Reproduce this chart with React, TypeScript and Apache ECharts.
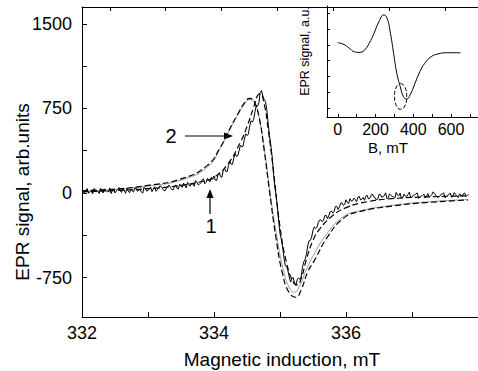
import React, { useEffect, useRef } from "react";
import * as echarts from "echarts";

// ---- main plot data ----
const noisyStart = 332;
const noisyStep = 0.04;
// curve 1 (experimental, noisy): samples at 332.00, 332.04, ...
const curve1Noisy = [
  22, 5, 38, 12, -8, 30, 18, 42, 0, 25, 10, -5, 35, 20, 48, 5, 28, 40, 2, 18,
  45, 15, 30, -2, 38, 20, 52, 35, 15, 48, 60, 22, 45, 70, 30, 55, 42, 78, 50, 65,
  95, 60, 80, 110, 72, 90, 125, 95, 110, 140,
  150, 110, 180, 140, 220, 190, 280, 255, 350, 330,
  425, 415, 525, 520, 640, 650, 775, 800, 910, 830, 740, 510, 330, 60, -120, -360, -480, -645, -690, -790,
  -750, -820, -755, -745, -610, -545, -425, -390, -300, -305, -240, -255, -200, -228, -165, -178, -120, -145, -90, -110,
  -60, -92, -72, -45, -78, -30, -55, -65, -20, -48, -8, -40, -55, -12, -30, 2, -42, -20, -35, 5,
  -25, -48, -10, -30, 8, -38, -18, 0, -35, -22, -45, -5, -28, 10, -20, -40, -12, 2, -32, -15,
  -38, 4, -25, -8, -30, 0, -20,
];
// curve 1, in-between samples: 332.02, 332.06, ...
const curve1NoisyMid = [
  8, 30, -2, 25, 40, 10, -5, 28, 35, 12, 45, 22, 0, 32, 15, 38, -3, 20, 30, 8,
  42, 25, 10, 50, 18, 40, 12, 55, 28, 62, 38, 20, 58, 48, 28, 72, 35, 60, 88, 45,
  72, 85, 60, 98, 78, 115, 82, 130, 100, 120,
  115, 160, 145, 200, 190, 245, 255, 310, 325, 375, 410, 475, 510, 590, 630, 720, 770,
  890, 860, 810, 620, 430, 185, -20, -250, -410, -575, -650, -745, -760, -800, -770, -765, -660, -590, -470, -420,
  -330, -315, -262, -238, -240, -200, -198, -160, -162, -118, -125, -88, -100,
  -85, -50, -68, -58, -35, -62, -40, -28, -52, -22, -35, -60, -15, -38, -25, -50, -8, -30, -45, -18,
  -2, -40, -28, -12, -42, -20, -5, -48, -25, -10, -30, -38, -15, -2, -35, -28, -8, -42, -20, 0,
  -26, -12, -40, -18, -5, -32, -15,
];
// curve 1 fit (dashed)
const fit1: [number, number][] = [
  [332, 10], [332.5, 22], [333, 38], [333.4, 60], [333.8, 100], [334.0, 140],
  [334.2, 250], [334.4, 450], [334.5, 590], [334.6, 760], [334.66, 865], [334.7, 880],
  [334.76, 790], [334.82, 570], [334.9, 200], [335.0, -300], [335.1, -620], [335.2, -790],
  [335.26, -815], [335.32, -760], [335.4, -590], [335.5, -420], [335.6, -320], [335.8, -200],
  [336.0, -130], [336.3, -80], [336.7, -50], [337.2, -35], [337.85, -25],
];
// curve 2 (thin grey solid)
const curve2: [number, number][] = [
  [332, 15], [332.5, 30], [333, 62], [333.5, 115], [333.9, 230], [334.1, 400],
  [334.2, 520], [334.35, 680], [334.48, 800], [334.55, 830], [334.62, 800], [334.7, 620],
  [334.78, 320], [334.85, 0], [334.95, -380], [335.05, -680], [335.15, -850], [335.22, -880],
  [335.3, -820], [335.4, -680], [335.5, -560], [335.7, -370], [335.95, -215], [336.2, -160],
  [336.7, -110], [337.2, -80], [337.85, -58],
];
// curve 2 fit (dashed)
const fit2: [number, number][] = [
  [332, 20], [332.5, 35], [333, 68], [333.5, 125], [333.9, 245], [334.1, 410],
  [334.2, 525], [334.35, 690], [334.48, 815], [334.54, 840], [334.6, 820], [334.68, 680],
  [334.76, 380], [334.84, 20], [334.94, -400], [335.04, -720], [335.14, -885], [335.24, -925],
  [335.32, -860], [335.42, -700], [335.52, -600], [335.72, -390], [335.96, -225], [336.2, -166],
  [336.7, -116], [337.2, -86], [337.85, -62],
];

const xTicks = [332, 333, 334, 335, 336, 337, 338];
const xTickLabels = [332, 334, 336];
const topTicks = [0.5, 1.5, 2.5, 3.5, 4.5, 5.5, 6.5];
const yTicks = [-750, -375, 0, 375, 750, 1125, 1500];
const yTickLabels = [-750, 0, 750, 1500];

// ---- inset data ----
const insetCurve: [number, number][] = [
  [0, 4.13], [28, 4.05], [62, 3.78], [88, 3.56], [114, 3.52], [140, 3.65],
  [166, 4.09], [192, 4.73], [218, 5.46], [244, 5.89], [261, 5.7], [279, 4.73],
  [296, 3.46], [313, 2.19], [331, 1.35], [348, 0.72], [365, 0.57], [383, 0.82],
  [409, 1.56], [435, 2.3], [461, 2.83], [495, 3.25], [530, 3.42], [582, 3.5], [651, 3.5],
];
const insetEllipse: [number, number][] = [
  [333, 1.56], [355, 1.35], [365, 0.74], [355, 0.13], [333, -0.08],
  [311, 0.13], [301, 0.74], [311, 1.35], [333, 1.56],
];
const insetXTicks = [0, 100, 200, 300, 400, 500, 600, 700];
const insetXTickLabels = [0, 200, 400, 600];
const insetYTicks = [0, 1, 2, 3, 4, 5, 6];

const FONT = '"Liberation Sans", Arial, Helvetica, sans-serif';
const plain = (v: number) => String(v);

export default function App() {
  const ref = useRef<HTMLDivElement>(null);
  useEffect(() => {
    if (!ref.current) return;
    const chart = echarts.init(ref.current, undefined, { renderer: "svg" });
    const noisyData: number[][] = [];
    curve1Noisy.forEach((v, i) => {
      noisyData.push([noisyStart + i * noisyStep, v]);
      if (i < curve1NoisyMid.length) {
        noisyData.push([noisyStart + noisyStep / 2 + i * noisyStep, curve1NoisyMid[i]]);
      }
    });
    const axisLine = { show: true, onZero: false, lineStyle: { color: "#000", width: 1 } };
    const dashed = { color: "#000", width: 1.2, type: [6, 3] as number[] };
    chart.setOption({
      animation: false,
      backgroundColor: "#fff",
      textStyle: { fontFamily: FONT },
      grid: [
        { left: 82, top: 7, right: -10, bottom: 54 },
        { left: 327, top: 6, right: -3, bottom: 254 },
      ],
      xAxis: [
        {
          type: "value", gridIndex: 0, min: 332, max: 338, position: "bottom",
          axisLine, splitLine: { show: false },
          axisTick: { inside: true, length: 5, customValues: xTicks, lineStyle: { color: "#000" } },
          axisLabel: { customValues: xTickLabels, formatter: plain, fontSize: 18, color: "#000", margin: 7, fontFamily: FONT },
        },
        {
          type: "value", gridIndex: 0, min: 0, max: 7.094, position: "top",
          axisLine, splitLine: { show: false },
          axisTick: { inside: true, length: 4, customValues: topTicks, lineStyle: { color: "#000" } },
          axisLabel: { show: false },
        },
        {
          type: "value", gridIndex: 1, min: -57, max: 743, position: "bottom",
          axisLine, splitLine: { show: false },
          axisTick: { inside: true, length: 3, customValues: insetXTicks, lineStyle: { color: "#000" } },
          axisLabel: { customValues: insetXTickLabels, formatter: plain, fontSize: 16, color: "#000", margin: 4, fontFamily: FONT },
        },
      ],
      yAxis: [
        {
          type: "value", gridIndex: 0, min: -1100, max: 1650,
          axisLine, splitLine: { show: false },
          axisTick: { show: true, inside: true, length: 5, customValues: yTicks, lineStyle: { color: "#000" } },
          axisLabel: { customValues: yTickLabels, formatter: plain, fontSize: 18, color: "#000", margin: 10, fontFamily: FONT },
        },
        {
          type: "value", gridIndex: 1, min: -0.57, max: 6.46,
          axisLine, splitLine: { show: false },
          axisTick: { show: true, inside: true, length: 3, customValues: insetYTicks, lineStyle: { color: "#000" } },
          axisLabel: { show: false },
        },
      ],
      series: [
        {
          type: "line", xAxisIndex: 0, yAxisIndex: 0, data: curve2, smooth: true,
          showSymbol: false, lineStyle: { color: "#9a9a9a", width: 1 }, z: 2,
        },
        {
          type: "line", xAxisIndex: 0, yAxisIndex: 0, data: fit2, smooth: true,
          showSymbol: false, lineStyle: dashed, z: 3,
        },
        {
          type: "line", xAxisIndex: 0, yAxisIndex: 0, data: fit1, smooth: true,
          showSymbol: false, lineStyle: dashed, z: 3,
        },
        {
          type: "line", xAxisIndex: 0, yAxisIndex: 0, data: noisyData,
          showSymbol: false, lineStyle: { color: "#000", width: 1 }, z: 4,
        },
        {
          type: "line", xAxisIndex: 2, yAxisIndex: 1, data: insetCurve, smooth: true,
          showSymbol: false, lineStyle: { color: "#000", width: 1 },
        },
        {
          type: "line", xAxisIndex: 2, yAxisIndex: 1, data: insetEllipse, smooth: true,
          showSymbol: false, lineStyle: { color: "#000", width: 1, type: [4, 2] },
        },
      ],
      graphic: [
        {
          type: "text", x: 22, y: 192, rotation: Math.PI / 2,
          style: { text: "EPR signal, arb.units", fontSize: 19, fontFamily: FONT, fill: "#000", align: "center", verticalAlign: "middle" },
        },
        {
          type: "text", x: 282, y: 359,
          style: { text: "Magnetic induction, mT", fontSize: 19, fontFamily: FONT, fill: "#000", align: "center", verticalAlign: "middle" },
        },
        {
          type: "text", x: 305, y: 51, rotation: Math.PI / 2,
          style: { text: "EPR signal, a.u.", fontSize: 12.5, fontFamily: FONT, fill: "#000", align: "center", verticalAlign: "middle" },
        },
        {
          type: "text", x: 388, y: 147,
          style: { text: "B, mT", fontSize: 15, fontFamily: FONT, fill: "#000", align: "center", verticalAlign: "middle" },
        },
        {
          type: "text", x: 171, y: 136,
          style: { text: "2", fontSize: 20, fontFamily: FONT, fill: "#000", align: "center", verticalAlign: "middle" },
        },
        {
          type: "text", x: 211, y: 226,
          style: { text: "1", fontSize: 20, fontFamily: FONT, fill: "#000", align: "center", verticalAlign: "middle" },
        },
        { type: "line", shape: { x1: 185, y1: 136, x2: 226, y2: 136 }, style: { stroke: "#000", lineWidth: 1.2 } },
        { type: "polygon", shape: { points: [[233, 136], [224, 132.5], [224, 139.5]] }, style: { fill: "#000" } },
        { type: "line", shape: { x1: 210, y1: 214, x2: 210, y2: 196 }, style: { stroke: "#000", lineWidth: 1.2 } },
        { type: "polygon", shape: { points: [[210, 189], [206.5, 198], [213.5, 198]] }, style: { fill: "#000" } },
      ],
    });
    return () => chart.dispose();
  }, []);
  return (
    <div
      ref={ref}
      style={{ position: "absolute", left: 0, top: 0, width: 478, height: 371, background: "#fff" }}
    />
  );
}
